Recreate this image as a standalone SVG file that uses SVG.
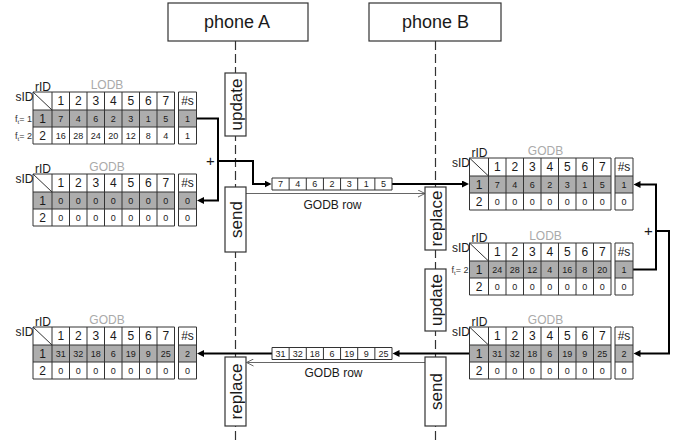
<svg xmlns="http://www.w3.org/2000/svg" xmlns:xlink="http://www.w3.org/1999/xlink" width="686" height="441" viewBox="0 0 686 441">
<style>
.t{font-family:"Liberation Sans",Arial,sans-serif;fill:#1a1a1a}
.gl{fill:none;stroke:#333;stroke-width:1}
.hl{fill:#adadad}
.h{font-size:12px;text-anchor:middle}
.d{font-size:9px;text-anchor:middle}
.lab{font-size:12px;fill:#aaa;text-anchor:middle}
.ft{font-size:9px;text-anchor:end;fill:#333}
.box{fill:#fff;stroke:#333;stroke-width:1.2}
.life{stroke:#333;stroke-width:1.2;stroke-dasharray:9 4;fill:none}
.bold{fill:none;stroke:#000;stroke-width:2}
.thin{fill:none;stroke:#666;stroke-width:1}
.rot{font-size:17px;text-anchor:middle}
.ph{font-size:18px;text-anchor:middle}
.plus{font-size:15px;text-anchor:middle}
</style>
<defs>
<marker id="ah" markerUnits="userSpaceOnUse" markerWidth="8" markerHeight="7" refX="4" refY="3.5" orient="auto">
<path d="M0,0L7,3.5L0,7z" fill="#000"/>
</marker>
<marker id="oh" markerUnits="userSpaceOnUse" markerWidth="8" markerHeight="8" refX="7" refY="4" orient="auto">
<path d="M0,0.5L7,4L0,7.5" fill="none" stroke="#666" stroke-width="1"/>
</marker>
<g id="grid">
<rect class="hl" x="0" y="18" width="141.5" height="17"/>
<rect class="hl" x="145.5" y="18" width="18" height="17"/>
<path class="gl" d="M0,0H141.5V52H0Z M0,18H141.5 M0,35H141.5 M19,0V52 M36.5,0V52 M54,0V52 M71.5,0V52 M89,0V52 M106.5,0V52 M124,0V52 M145.5,0H163.5V52H145.5Z M145.5,18H163.5 M145.5,35H163.5 M0,0L19,18"/>
<text class="t h" y="13.2"><tspan x="27.75">1</tspan><tspan x="45.25">2</tspan><tspan x="62.75">3</tspan><tspan x="80.25">4</tspan><tspan x="97.75">5</tspan><tspan x="115.25">6</tspan><tspan x="132.75">7</tspan><tspan x="154.5">#s</tspan></text>
<text class="t h" y="30.7"><tspan x="9.5">1</tspan></text>
<text class="t h" y="47.7"><tspan x="9.5">2</tspan></text>
<text class="t" font-size="12" x="2" y="-1">rID</text>
<text class="t" font-size="12" x="0.5" y="9" text-anchor="end">sID</text>
</g>
<g id="zeros">
<text class="t d" y="46.7"><tspan x="27.75">0</tspan><tspan x="45.25">0</tspan><tspan x="62.75">0</tspan><tspan x="80.25">0</tspan><tspan x="97.75">0</tspan><tspan x="115.25">0</tspan><tspan x="132.75">0</tspan><tspan x="154.5">0</tspan></text>
</g>
<path id="arr" class="gl" d="M0,0H120V12H0Z M17.14,0V12 M34.29,0V12 M51.43,0V12 M68.57,0V12 M85.71,0V12 M102.86,0V12"/>
</defs>

<g id="lifelines">
<line class="life" x1="235.5" y1="41" x2="235.5" y2="441"/>
<line class="life" x1="435.5" y1="41" x2="435.5" y2="441"/>
</g>

<g id="phoneA">
<rect class="box" x="168" y="3" width="140" height="38"/>
<text class="t ph" x="237" y="28">phone A</text>
</g>
<g id="phoneB">
<rect class="box" x="369" y="3" width="132" height="38"/>
<text class="t ph" x="435.5" y="28">phone B</text>
</g>

<g id="connectors">
<path class="bold" d="M196.5,118.5H218V200.5H200" marker-end="url(#ah)"/>
<path class="bold" d="M218,161H253V184H268.5" marker-end="url(#ah)"/>
<path class="bold" d="M392,184H466" marker-end="url(#ah)"/>
<path class="bold" d="M633,269.5H656V184.5H636.5" marker-end="url(#ah)"/>
<path class="bold" d="M656,231H669V353.5H636.5" marker-end="url(#ah)"/>
<path class="bold" d="M469.5,353.5H395.5" marker-end="url(#ah)"/>
<path class="bold" d="M272,353.5H200" marker-end="url(#ah)"/>
<path class="thin" d="M246,193.5H425" marker-end="url(#oh)"/>
<path class="thin" d="M425,362.5H246.5" marker-end="url(#oh)"/>
<text class="t plus" x="210.5" y="166">+</text>
<text class="t plus" x="648.5" y="235.5">+</text>
<text class="t" font-size="12" x="332.5" y="209" text-anchor="middle">GODB row</text>
<text class="t" font-size="12" x="333.5" y="377" text-anchor="middle">GODB row</text>
</g>

<g id="updateA">
<rect class="box" x="225" y="73" width="21" height="63"/>
<text class="t rot" transform="translate(235.5,104.5) rotate(-90)" y="6">update</text>
</g>
<g id="sendA">
<rect class="box" x="225" y="187" width="21" height="65"/>
<text class="t rot" transform="translate(235.5,219.5) rotate(-90)" y="6">send</text>
</g>
<g id="replaceB">
<rect class="box" x="425" y="187" width="21" height="63"/>
<text class="t rot" transform="translate(435.5,218.5) rotate(-90)" y="6">replace</text>
</g>
<g id="updateB">
<rect class="box" x="425" y="269" width="21" height="62"/>
<text class="t rot" transform="translate(435.5,300) rotate(-90)" y="6">update</text>
</g>
<g id="sendB">
<rect class="box" x="425" y="357" width="21" height="69"/>
<text class="t rot" transform="translate(435.5,391.5) rotate(-90)" y="6">send</text>
</g>
<g id="replaceA">
<rect class="box" x="225" y="357" width="21" height="69"/>
<text class="t rot" transform="translate(235.5,391.5) rotate(-90)" y="6">replace</text>
</g>

<g id="arrayTop" transform="translate(272,178)">
<use xlink:href="#arr" href="#arr"/>
<text class="t d" y="9.2"><tspan x="8.57">7</tspan><tspan x="25.71">4</tspan><tspan x="42.86">6</tspan><tspan x="60">2</tspan><tspan x="77.14">3</tspan><tspan x="94.29">1</tspan><tspan x="111.43">5</tspan></text>
</g>
<g id="arrayBottom" transform="translate(272,347.5)">
<use xlink:href="#arr" href="#arr"/>
<text class="t d" y="9.2"><tspan x="8.57">31</tspan><tspan x="25.71">32</tspan><tspan x="42.86">18</tspan><tspan x="60">6</tspan><tspan x="77.14">19</tspan><tspan x="94.29">9</tspan><tspan x="111.43">25</tspan></text>
</g>

<g id="lodbA" transform="translate(33,92)">
<use xlink:href="#grid" href="#grid"/>
<text class="t lab" x="74" y="-3.5">LODB</text>
<text class="t d" y="29.7"><tspan x="27.75">7</tspan><tspan x="45.25">4</tspan><tspan x="62.75">6</tspan><tspan x="80.25">2</tspan><tspan x="97.75">3</tspan><tspan x="115.25">1</tspan><tspan x="132.75">5</tspan><tspan x="154.5">1</tspan></text>
<text class="t d" y="46.7"><tspan x="27.75">16</tspan><tspan x="45.25">28</tspan><tspan x="62.75">24</tspan><tspan x="80.25">20</tspan><tspan x="97.75">12</tspan><tspan x="115.25">8</tspan><tspan x="132.75">4</tspan><tspan x="154.5">1</tspan></text>
<text class="t ft" x="-1" y="29.7">f<tspan font-size="6" dy="2">t</tspan><tspan dy="-2">= 1</tspan></text>
<text class="t ft" x="-1" y="46.7">f<tspan font-size="6" dy="2">t</tspan><tspan dy="-2">= 2</tspan></text>
</g>

<g id="godbA1" transform="translate(33,174)">
<use xlink:href="#grid" href="#grid"/>
<text class="t lab" x="74" y="-3.5">GODB</text>
<text class="t d" y="29.7"><tspan x="27.75">0</tspan><tspan x="45.25">0</tspan><tspan x="62.75">0</tspan><tspan x="80.25">0</tspan><tspan x="97.75">0</tspan><tspan x="115.25">0</tspan><tspan x="132.75">0</tspan><tspan x="154.5">0</tspan></text>
<use xlink:href="#zeros" href="#zeros"/>
</g>

<g id="godbB1" transform="translate(469.5,158)">
<use xlink:href="#grid" href="#grid"/>
<text class="t lab" x="76" y="-3.5">GODB</text>
<text class="t d" y="29.7"><tspan x="27.75">7</tspan><tspan x="45.25">4</tspan><tspan x="62.75">6</tspan><tspan x="80.25">2</tspan><tspan x="97.75">3</tspan><tspan x="115.25">1</tspan><tspan x="132.75">5</tspan><tspan x="154.5">1</tspan></text>
<use xlink:href="#zeros" href="#zeros"/>
</g>

<g id="lodbB" transform="translate(469.5,243)">
<use xlink:href="#grid" href="#grid"/>
<text class="t lab" x="76" y="-3.5">LODB</text>
<text class="t d" y="29.7"><tspan x="27.75">24</tspan><tspan x="45.25">28</tspan><tspan x="62.75">12</tspan><tspan x="80.25">4</tspan><tspan x="97.75">16</tspan><tspan x="115.25">8</tspan><tspan x="132.75">20</tspan><tspan x="154.5">1</tspan></text>
<use xlink:href="#zeros" href="#zeros"/>
<text class="t ft" x="-1" y="29.7">f<tspan font-size="6" dy="2">t</tspan><tspan dy="-2">= 2</tspan></text>
</g>

<g id="godbB2" transform="translate(469.5,327)">
<use xlink:href="#grid" href="#grid"/>
<text class="t lab" x="76" y="-3.5">GODB</text>
<text class="t d" y="29.7"><tspan x="27.75">31</tspan><tspan x="45.25">32</tspan><tspan x="62.75">18</tspan><tspan x="80.25">6</tspan><tspan x="97.75">19</tspan><tspan x="115.25">9</tspan><tspan x="132.75">25</tspan><tspan x="154.5">2</tspan></text>
<use xlink:href="#zeros" href="#zeros"/>
</g>

<g id="godbA2" transform="translate(33,327)">
<use xlink:href="#grid" href="#grid"/>
<text class="t lab" x="74" y="-3.5">GODB</text>
<text class="t d" y="29.7"><tspan x="27.75">31</tspan><tspan x="45.25">32</tspan><tspan x="62.75">18</tspan><tspan x="80.25">6</tspan><tspan x="97.75">19</tspan><tspan x="115.25">9</tspan><tspan x="132.75">25</tspan><tspan x="154.5">2</tspan></text>
<use xlink:href="#zeros" href="#zeros"/>
</g>
</svg>
